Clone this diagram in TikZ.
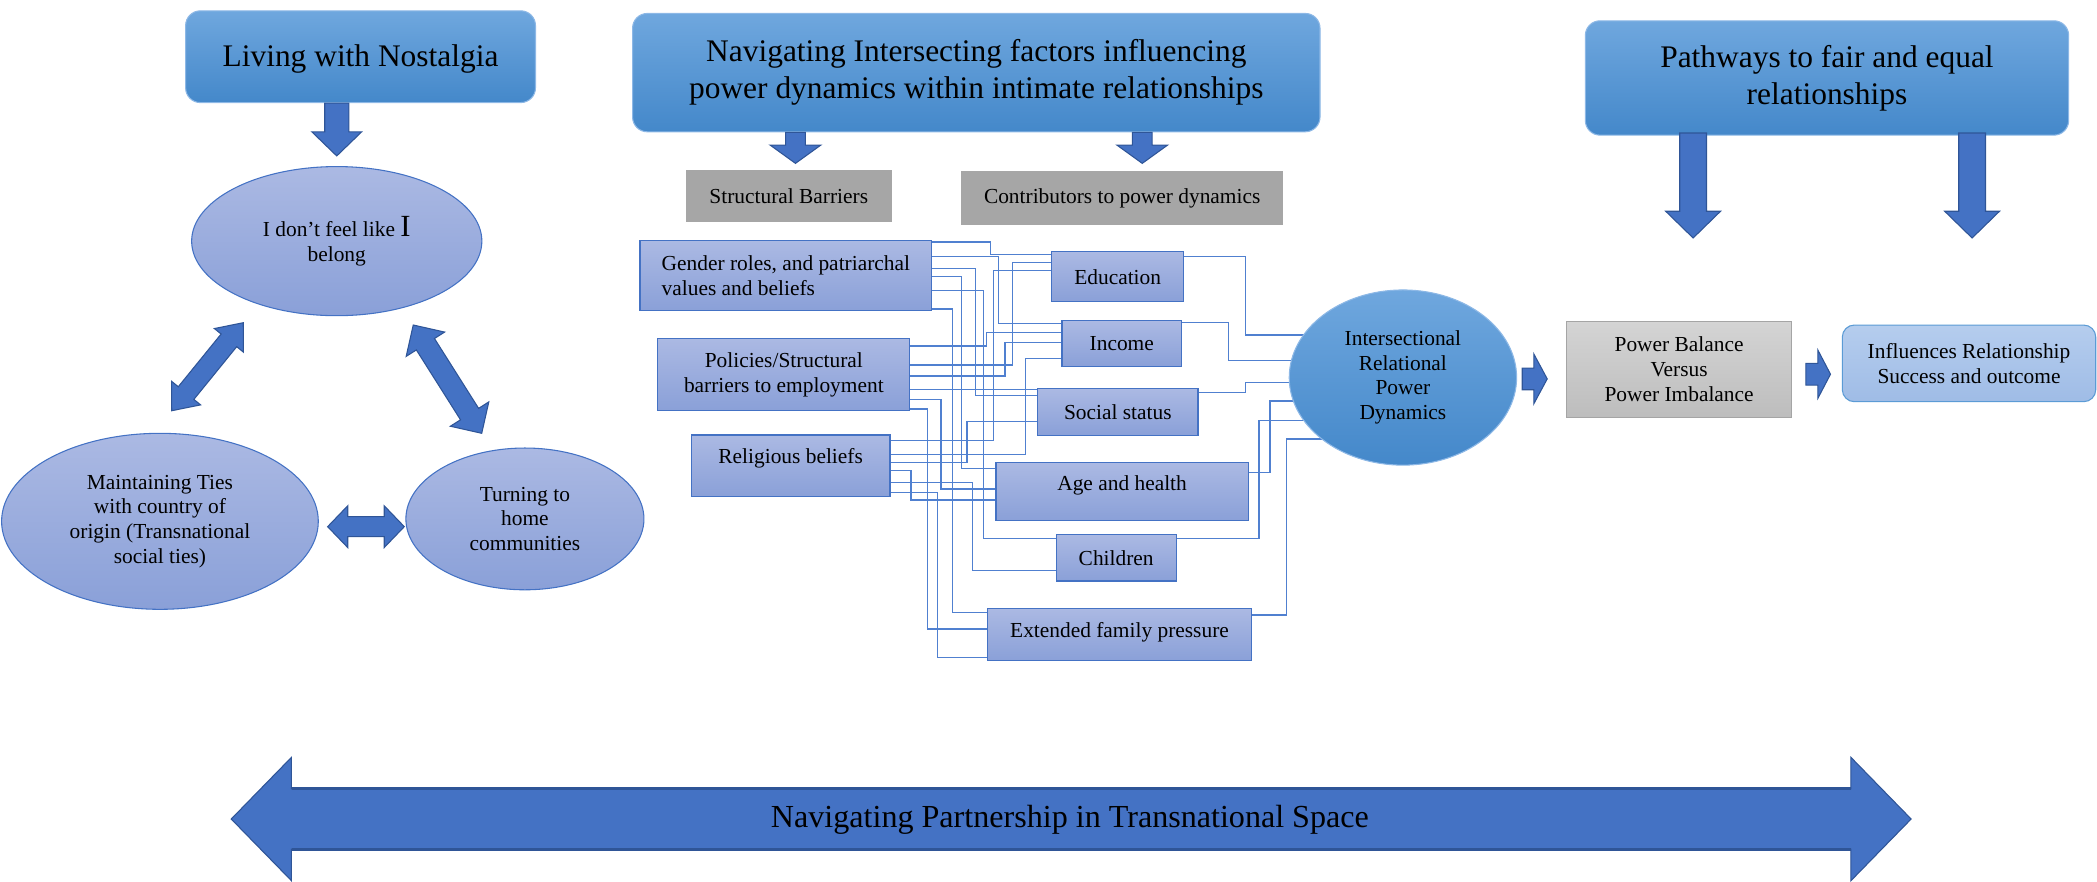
\documentclass[tikz,border=0pt]{standalone}
\usepackage{fontspec}
\setmainfont{Liberation Serif}
\usetikzlibrary{calc,shapes.geometric}
\pgfdeclarelayer{wires}
\pgfsetlayers{wires,main}

\definecolor{hdtop}{HTML}{6FA7DE}
\definecolor{hdbot}{HTML}{4488CA}
\definecolor{hdline}{HTML}{8DB8E6}
\definecolor{bxtop}{HTML}{ABB9E3}
\definecolor{bxbot}{HTML}{8AA0D8}
\definecolor{bxline}{HTML}{4472C4}
\definecolor{arfill}{HTML}{4472C4}
\definecolor{arline}{HTML}{2F5597}
\definecolor{wirecol}{HTML}{5080D0}
\definecolor{grayhd}{HTML}{A6A6A6}
\definecolor{pbtop}{HTML}{D4D4D4}
\definecolor{pbbot}{HTML}{BDBDBD}
\definecolor{pbline}{HTML}{A5A5A5}
\definecolor{inftop}{HTML}{B5CDEE}
\definecolor{infbot}{HTML}{9FBCE6}
\definecolor{infline}{HTML}{5B9BD5}

\newcommand\fsz[2]{\fontsize{#1}{#2}\selectfont}
% text drawn a little higher than the centre of its box
\newcommand\lifted[2]{\raisebox{#1pt}[\height][\depth]{#2}}

% elbow wire: source box, exit y, vertical x, entry y, target box
\newcommand\wire[5]{\draw[wire] (#1.east |- 0,#2) -- (#3,#2) -- (#3,#4) -- (#5.west |- 0,#4);}
% elbow wire from a factor box into the central ellipse
\newcommand\wireout[4]{\draw[wire] (#1.east |- 0,#2) -- (#3,#2) -- (#3,#4) -- (ird.center |- 0,#4);}
% downward block arrow: top centre, shaft length, head length, shaft half width, head half width
\newcommand\dnblock[5]{\draw[blockarrow] (#1) ++(-#4,0) -- ++({2*#4},0) -- ++(0,#2) -- ++({#5-#4},0) -- ++({-#5},#3) -- ++({-#5},{-#3}) -- ++({#5-#4},0) -- cycle;}
% rightward block arrow: left centre, shaft length, head length, shaft half width, head half width
\newcommand\rtblock[5]{\draw[blockarrow] (#1) ++(0,-#4) -- ++(#2,0) -- ++(0,{#4-#5}) -- ++(#3,#5) -- ++(-#3,#5) -- ++(0,{#4-#5}) -- ++(-#2,0) -- cycle;}
% double-headed block arrow: centre x, centre y, angle, half length, head length, shaft half, head half
\newcommand\dblarrow[7]{%
  \begin{scope}[shift={(#1,#2)}, rotate=#3]
    \draw[blockarrow] (-#4,0) -- ({-#4+#5},#7) -- ({-#4+#5},#6) -- ({#4-#5},#6) -- ({#4-#5},#7)
      -- (#4,0) -- ({#4-#5},-#7) -- ({#4-#5},-#6) -- ({-#4+#5},-#6) -- ({-#4+#5},-#7) -- cycle;
  \end{scope}}

\tikzset{
  wh/.style 2 args={minimum width=#1pt, minimum height=#2pt},
  header/.style={draw=hdline, line width=0.8pt, rounded corners=11pt, top color=hdtop,
    bottom color=hdbot, align=center, inner sep=0pt, font=\fsz{23.5}{27.4}},
  graybox/.style={fill=grayhd, inner sep=0pt, font=\fsz{16}{18.4}},
  factor/.style={draw=bxline, line width=0.9pt, top color=bxtop, bottom color=bxbot,
    align=center, inner sep=0pt, font=\fsz{16}{18.4}},
  theme/.style={ellipse, draw=bxline, line width=0.8pt, top color=bxtop, bottom color=bxbot,
    align=center, inner sep=0pt, font=\fsz{16}{18.4}},
  wire/.style={draw=wirecol, line width=0.9pt},
  blockarrow/.style={fill=arfill, draw=arline, line width=0.8pt, line join=miter},
}

\begin{document}
\begin{tikzpicture}[x=1pt, y=-1pt]
\useasboundingbox (0,0) rectangle (1568,659);

% ---- headers
\node[header, wh={261.6}{68.6}] (liv) at (269.6,42.4) {\lifted{-2}{Living with Nostalgia}};
\node[header, wh={514}{88.5}] (nav) at (730,54.3)
  {Navigating Intersecting factors influencing\\power dynamics within intimate relationships};
\node[header, wh={361.4}{85.5}] (pw) at (1366.1,58.3) {Pathways to fair and equal\\relationships};

% ---- nostalgia cycle
\node[theme, wh={217}{111.5}] (bel) at (251.8,180.3) {I don’t feel like {\fsz{23}{20}I}\\belong};
\node[theme, wh={236.8}{131.6}] (mt) at (119.6,389.8)
  {Maintaining Ties\\with country of\\origin (Transnational\\social ties)};
\node[theme, wh={178}{106}] (tur) at (392.5,388) {Turning to\\home\\communities};

\dnblock{bel.north |- liv.south}{21.5}{18}{9}{18.6}
\dblarrow{155.15}{274.2}{50.9}{42.4}{17}{7.5}{14}
\dblarrow{334.6}{283.5}{-57.7}{47.9}{17}{8}{17}
\dblarrow{273.65}{393.8}{0}{28.65}{15}{7.5}{15.6}

% ---- intersecting factors
\node[graybox, wh={153.7}{38.6}] (sb) at (589.8,146.4) {Structural Barriers};
\node[graybox, wh={241}{40.4}] (ctb) at (839.1,148.3) {Contributors to power dynamics};

\dnblock{$(nav.south -| sb.north)+(5,0)$}{9.5}{13.7}{7.4}{19}
\dnblock{$(nav.south -| ctb.north)+(15,0)$}{9.5}{13.7}{7.4}{19}

\node[factor, align=left, wh={218}{52.3}] (gen) at (587.6,206.2)
  {Gender roles, and patriarchal\\values and beliefs};
\node[factor, wh={188.4}{53.8}] (pol) at (586.1,280.1) {Policies/Structural\\barriers to employment};
\node[factor, wh={148.5}{46.1}] (rel) at (591.2,348.3) {\lifted{6}{Religious beliefs}};

\node[factor, wh={98.6}{37.4}] (edu) at (835.7,206.9) {Education};
\node[factor, wh={89.4}{34.3}] (inc) at (838.8,257) {Income};
\node[factor, wh={120}{34.7}] (soc) at (835.8,308) {Social status};
\node[factor, wh={188.5}{43.3}] (age) at (839,367.7) {\lifted{5}{Age and health}};
\node[factor, wh={89.8}{34.6}] (chi) at (834.6,417.1) {Children};
\node[factor, wh={197.6}{38.9}] (ext) at (837.1,474.5) {\lifted{2}{Extended family pressure}};

\node[ellipse, draw=hdline, line width=0.8pt, top color=hdtop, bottom color=hdbot, align=center,
  inner sep=0pt, font=\fsz{16}{18.4}, wh={170}{131}] (ird) at (1049,282.3)
  {Intersectional\\Relational\\Power\\Dynamics};

\begin{pgfonlayer}{wires}
  % structural barriers to contributors
  \wire{gen}{181}{740.6}{190}{edu}
  \wire{gen}{192}{746.7}{242}{inc}
  \wire{gen}{200.6}{729.5}{296}{soc}
  \wire{gen}{206.9}{719}{350.2}{age}
  \wire{gen}{217.3}{735.6}{402.5}{chi}
  \wire{gen}{231}{712.4}{458.1}{ext}
  \wire{pol}{272.9}{757.2}{196.4}{edu}
  \wire{pol}{258.7}{737.7}{248.7}{inc}
  \wire{pol}{281.1}{751.5}{256.2}{inc}
  \wire{pol}{291.5}{760}{291.5}{soc}
  \wire{pol}{298.6}{703.6}{365.6}{age}
  \wire{pol}{305.8}{693.6}{470.3}{ext}
  \wire{rel}{329.5}{742.6}{202.4}{edu}
  \wire{rel}{339.7}{766.5}{268}{inc}
  \wire{rel}{346}{723}{315.3}{soc}
  \wire{rel}{351.9}{681.2}{373.9}{age}
  \wire{rel}{360.7}{727.3}{426.7}{chi}
  \wire{rel}{368.1}{701}{491.5}{ext}
  % contributors into the central ellipse
  \wireout{edu}{191.9}{931.4}{250.5}
  \wireout{inc}{241.3}{918.4}{269.7}
  \wireout{soc}{293.4}{931}{286.1}
  \wireout{age}{353.4}{949.6}{299.8}
  \wireout{chi}{402.5}{941.4}{314.5}
  \wireout{ext}{459.9}{962}{328.2}
\end{pgfonlayer}

% ---- pathways
\node[draw=pbline, line width=0.8pt, top color=pbtop, bottom color=pbbot, align=center, inner sep=0pt,
  font=\fsz{16}{18.6}, wh={168}{71.5}] (pb) at (1255.5,276.3) {Power Balance\\Versus\\Power Imbalance};
\node[draw=infline, line width=0.8pt, rounded corners=9pt, top color=inftop, bottom color=infbot,
  align=center, inner sep=0pt, font=\fsz{16}{18.6}, wh={189.5}{57.3}] (inf) at (1472.3,271.7)
  {Influences Relationship\\Success and outcome};

\rtblock{$(ird.east)+(3.8,1)$}{8.7}{10}{8.1}{18.6}
\rtblock{$(pb.east)+(10.4,3.5)$}{9}{9.4}{8.1}{18}
\dnblock{$(pw.south -| pb.north)+(10.5,-2)$}{58.5}{20}{10}{20.5}
\dnblock{$(pw.south -| inf.north)+(2.3,-2)$}{58.5}{20}{10}{20.5}

% ---- transnational space
\dblarrow{800.95}{612.4}{0}{628.05}{45}{22.6}{46.1}
% darker edges along the shaft
\draw[arline, line width=2pt] (218,589.8) -- (1383.9,589.8) (218,635) -- (1383.9,635);
\node[font=\fsz{24}{26}, inner sep=0pt] (nps) at (800,613) {Navigating Partnership in Transnational Space};
\end{tikzpicture}
\end{document}
